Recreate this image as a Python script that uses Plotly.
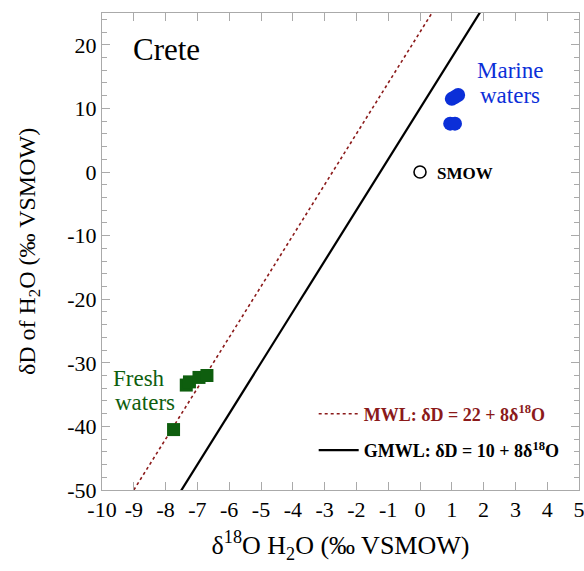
import plotly.graph_objects as go

# Data
marine_x = [1.0, 1.2, 1.1, 0.95, 1.1]
marine_y = [11.5, 12.1, 11.8, 7.6, 7.6]
fresh_x = [-7.75, -7.35, -7.25, -6.95, -6.7]
fresh_y = [-40.5, -33.5, -33.0, -32.3, -32.0]
smow_x = [0.0]
smow_y = [0.0]
mwl_intercept, gmwl_intercept, slope = 22, 10, 8
x_line = [-10, 5]
x_ticks = list(range(-10, 6))
y_ticks = list(range(-50, 21, 10))

FONT = "Liberation Serif"
BROWN = "#8b1a1a"
BLUE = "#0b2fd8"
GREEN = "#0e5e0e"

fig = go.Figure()
fig.add_trace(go.Scatter(x=x_line, y=[mwl_intercept + slope * v for v in x_line], mode="lines",
                         line=dict(color=BROWN, width=1.6, dash="dot"), legendgroup="a",
                         name="<b><span style='color:#8b1a1a'>MWL: δD = 22 + 8δ<sup>18</sup>O</span></b>"))
fig.add_trace(go.Scatter(x=x_line, y=[gmwl_intercept + slope * v for v in x_line], mode="lines",
                         line=dict(color="black", width=2.2), legendgroup="b",
                         name="<b>GMWL: δD = 10 + 8δ<sup>18</sup>O</b>"))
fig.add_trace(go.Scatter(x=marine_x, y=marine_y, mode="markers", showlegend=False,
                         marker=dict(color=BLUE, size=14, symbol="circle")))
fig.add_trace(go.Scatter(x=fresh_x, y=fresh_y, mode="markers", showlegend=False,
                         marker=dict(color=GREEN, size=13, symbol="square")))
fig.add_trace(go.Scatter(x=smow_x, y=smow_y, mode="markers", showlegend=False,
                         marker=dict(color="white", size=12, symbol="circle",
                                     line=dict(color="black", width=1.6))))

fig.add_annotation(x=-9.1, y=19.3, text="Crete", showarrow=False, xanchor="left",
                   font=dict(family=FONT, size=31, color="black"))
fig.add_annotation(x=0.48, y=-0.2, text="<b>SMOW</b>", showarrow=False, xanchor="left",
                   font=dict(family=FONT, size=17, color="black"))
fig.add_annotation(x=2.83, y=15.9, text="Marine", showarrow=False,
                   font=dict(family=FONT, size=23, color=BLUE))
fig.add_annotation(x=2.83, y=12.0, text="waters", showarrow=False,
                   font=dict(family=FONT, size=23, color=BLUE))
fig.add_annotation(x=-8.84, y=-32.5, text="Fresh", showarrow=False,
                   font=dict(family=FONT, size=23, color=GREEN))
fig.add_annotation(x=-8.65, y=-36.3, text="waters", showarrow=False,
                   font=dict(family=FONT, size=23, color=GREEN))

axis_common = dict(showgrid=False, zeroline=False, showline=True, linecolor="#aaaaaa",
                   linewidth=1, ticks="inside", tickcolor="#aaaaaa", ticklen=8,
                   mirror="ticks", ticklabeloverflow="allow", automargin=False,
                   tickfont=dict(family=FONT, size=22, color="black"))
fig.update_xaxes(range=[-10, 5], tickvals=x_ticks, ticktext=[str(v) for v in x_ticks],
                 title=dict(text="δ<sup>18</sup>O H<sub>2</sub>O (‰ VSMOW)",
                            font=dict(family=FONT, size=26, color="black"), standoff=14),
                 **axis_common)
fig.update_yaxes(range=[-50, 25], tickvals=y_ticks, ticktext=[str(v) for v in y_ticks],
                 minor=dict(dtick=2, tick0=0, ticks="inside", ticklen=5, tickcolor="#aaaaaa"),
                 title=dict(text="δD of H<sub>2</sub>O (‰ VSMOW)",
                            font=dict(family=FONT, size=24, color="black"), standoff=24),
                 **axis_common)

fig.update_layout(
    width=584, height=571,
    margin=dict(l=102, r=5, t=13, b=81),
    plot_bgcolor="white", paper_bgcolor="white",
    legend=dict(x=0.97, y=0.045, xanchor="right", yanchor="bottom",
                bgcolor="rgba(0,0,0,0)", font=dict(family=FONT, size=18, color="black"),
                tracegroupgap=10, itemwidth=40),
)
fig.write_html("out.html")
